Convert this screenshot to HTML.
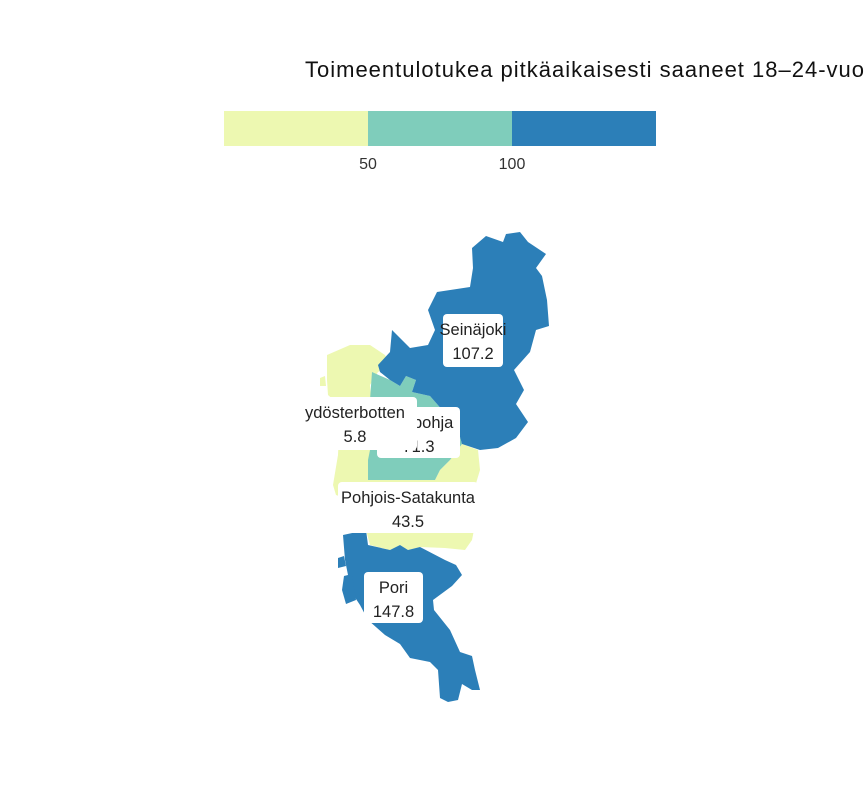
<!DOCTYPE html>
<html><head><meta charset="utf-8"><style>
body{margin:0;background:#fff;overflow:hidden;}
svg{display:block;font-family:"Liberation Sans",sans-serif;}
</style></head><body>
<svg id="chart" width="864" height="792">
<text x="305" y="77" font-size="22" letter-spacing="1.0" fill="#111">Toimeentulotukea pitkäaikaisesti saaneet 18–24-vuotiaat</text>
<g id="legend"></g>
<g id="map">
<polygon fill="#edf8b1" points="327,355 350,345 370,345 385,355 390,365 378,372 370,385 372,410 345,410 328,395 327,380"/>
<polygon fill="#edf8b1" points="320,378 325,376 326,386 320,386"/>
<polygon fill="#edf8b1" points="340,410 372,410 372,440 368,480 350,500 336,495 333,485 338,455"/>
<polygon fill="#edf8b1" points="462,444 478,450 480,470 474,490 478,510 472,540 465,550 445,548 420,547 408,550 400,545 390,550 370,545 366,530 340,530 350,480 368,480 435,480 440,470 450,460"/>
<polygon fill="#7fcdbb" points="372,372 390,380 400,386 406,376 416,380 412,392 430,396 444,412 458,430 462,444 450,460 440,470 435,480 368,480 368,460 372,440 370,400"/>
<polygon fill="#2c7fb8" points="472,248 486,236 503,242 506,234 520,232 528,242 546,254 536,268 542,276 547,300 549,326 536,330 530,352 514,370 524,390 516,404 528,422 516,438 498,448 480,450 462,444 458,430 444,412 430,396 412,392 416,380 406,376 400,386 390,380 380,372 378,365 390,352 392,330 410,348 428,345 435,330 428,310 437,292 470,287 473,268"/>
<polygon fill="#2c7fb8" points="343,535 366,530 368,545 390,550 400,545 408,550 420,547 445,560 456,565 462,575 452,586 433,600 434,610 450,630 460,652 472,656 475,670 480,690 472,690 462,684 458,700 448,702 440,698 438,670 430,662 410,658 400,644 385,635 368,620 360,605 350,590 348,575 345,560"/>
<polygon fill="#2c7fb8" points="338,558 344,556 346,566 338,568"/>
<polygon fill="#2c7fb8" points="344,576 352,574 356,600 346,604 342,590"/>
</g>
<g id="labels"></g>
</svg>
<script>
const legendBreaks=[50,100];
const legendColors=["#edf8b1","#7fcdbb","#2c7fb8"];
const regionNames=["Seinäjoki","Suupohja","ydösterbotten","Pohjois-Satakunta","Pori"];
const regionValues=["107.2","71.3","5.8","43.5","147.8"];
const NS="http://www.w3.org/2000/svg";
const lx=v=>224+v*2.88;
const lg=document.getElementById('legend');
const edges=[0,...legendBreaks,150];
for(let i=0;i<legendColors.length;i++){
 const r=document.createElementNS(NS,'rect');
 r.setAttribute('x',lx(edges[i]));r.setAttribute('y',111);
 r.setAttribute('width',lx(edges[i+1])-lx(edges[i]));r.setAttribute('height',35);
 r.setAttribute('fill',legendColors[i]);
 
 
 lg.appendChild(r);
}
legendBreaks.forEach(b=>{
 const t=document.createElementNS(NS,'text');
 t.setAttribute('x',lx(b));t.setAttribute('y',169);t.setAttribute('text-anchor','middle');
 t.setAttribute('font-size','16');t.setAttribute('fill','#333');t.textContent=b;
 
 
 lg.appendChild(t);
});
const boxes=[[443,314,60,53],[377,407,83,51],[290,397,127,53],[338,482,140,51],[364,572,59,51]];
const order=[0,1,2,3,4];
const lab=document.getElementById('labels');
order.forEach(i=>{
 const [x,y,w,h]=boxes[i];
 const g=document.createElementNS(NS,'g');
 
 
 const r=document.createElementNS(NS,'rect');
 r.setAttribute('x',x);r.setAttribute('y',y);r.setAttribute('width',w);r.setAttribute('height',h);
 r.setAttribute('rx',4);r.setAttribute('fill','#fff');
 g.appendChild(r);
 const cx=i===2?355:x+w/2;
 [regionNames[i],regionValues[i]].forEach((s,k)=>{
  const t=document.createElementNS(NS,'text');
  t.setAttribute('x',cx);t.setAttribute('y',y+21+k*24);t.setAttribute('text-anchor','middle');
  t.setAttribute('font-size','16.5');t.setAttribute('fill','#222');t.textContent=s;
  g.appendChild(t);
 });
 lab.appendChild(g);
});
</script>
</body></html>
